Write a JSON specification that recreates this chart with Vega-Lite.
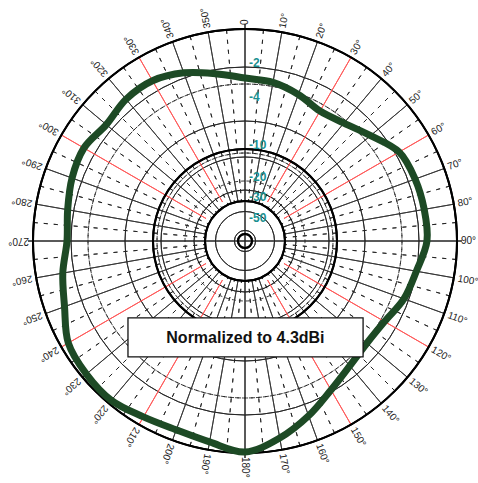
{
  "$schema": "https://vega.github.io/schema/vega-lite/v6.json",
  "width": 424,
  "height": 424,
  "autosize": {"type": "none"},
  "padding": {"left": 33, "top": 29, "right": 21, "bottom": 30},
  "background": "white",
  "config": {"view": {"stroke": null}},
  "datasets": {
    "rings": [
      {"db": 0, "k": "thick"}, {"db": -10, "k": "thick"}, {"db": -20, "k": "thick"}, {"db": -30, "k": "thick"}, {"db": -50, "k": "thick"}, {"db": -60, "k": "thick"},
      {"db": -2, "k": "solid"}, {"db": -4, "k": "solid"}, {"db": -6, "k": "solid"}, {"db": -12.5, "k": "solid"}, {"db": -15, "k": "solid"}, {"db": -17.5, "k": "solid"}, {"db": -22.5, "k": "solid"}, {"db": -25, "k": "solid"}, {"db": -27.5, "k": "solid"},
      {"db": -3, "k": "dash"}, {"db": -8, "k": "dash"}, {"db": -9, "k": "dash"}
    ],
    "spokes": [
      {"a": 0, "k": "axis"}, {"a": 90, "k": "axis"}, {"a": 180, "k": "axis"}, {"a": 270, "k": "axis"},
      {"a": 30, "k": "red"}, {"a": 60, "k": "red"}, {"a": 120, "k": "red"}, {"a": 150, "k": "red"}, {"a": 210, "k": "red"}, {"a": 240, "k": "red"}, {"a": 300, "k": "red"}, {"a": 330, "k": "red"},
      {"a": 10, "k": "ten"}, {"a": 20, "k": "ten"}, {"a": 40, "k": "ten"}, {"a": 50, "k": "ten"}, {"a": 70, "k": "ten"}, {"a": 80, "k": "ten"}, {"a": 100, "k": "ten"}, {"a": 110, "k": "ten"}, {"a": 130, "k": "ten"}, {"a": 140, "k": "ten"}, {"a": 160, "k": "ten"}, {"a": 170, "k": "ten"}, {"a": 190, "k": "ten"}, {"a": 200, "k": "ten"}, {"a": 220, "k": "ten"}, {"a": 230, "k": "ten"}, {"a": 250, "k": "ten"}, {"a": 260, "k": "ten"}, {"a": 280, "k": "ten"}, {"a": 290, "k": "ten"}, {"a": 310, "k": "ten"}, {"a": 320, "k": "ten"}, {"a": 340, "k": "ten"}, {"a": 350, "k": "ten"},
      {"a": 5, "k": "five"}, {"a": 15, "k": "five"}, {"a": 25, "k": "five"}, {"a": 35, "k": "five"}, {"a": 45, "k": "five"}, {"a": 55, "k": "five"}, {"a": 65, "k": "five"}, {"a": 75, "k": "five"}, {"a": 85, "k": "five"}, {"a": 95, "k": "five"}, {"a": 105, "k": "five"}, {"a": 115, "k": "five"}, {"a": 125, "k": "five"}, {"a": 135, "k": "five"}, {"a": 145, "k": "five"}, {"a": 155, "k": "five"}, {"a": 165, "k": "five"}, {"a": 175, "k": "five"}, {"a": 185, "k": "five"}, {"a": 195, "k": "five"}, {"a": 205, "k": "five"}, {"a": 215, "k": "five"}, {"a": 225, "k": "five"}, {"a": 235, "k": "five"}, {"a": 245, "k": "five"}, {"a": 255, "k": "five"}, {"a": 265, "k": "five"}, {"a": 275, "k": "five"}, {"a": 285, "k": "five"}, {"a": 295, "k": "five"}, {"a": 305, "k": "five"}, {"a": 315, "k": "five"}, {"a": 325, "k": "five"}, {"a": 335, "k": "five"}, {"a": 345, "k": "five"}, {"a": 355, "k": "five"}
    ],
    "anglabels": [
      {"a": 0, "lab": "0"}, {"a": 10, "lab": "10°"}, {"a": 20, "lab": "20°"}, {"a": 30, "lab": "30°"}, {"a": 40, "lab": "40°"}, {"a": 50, "lab": "50°"}, {"a": 60, "lab": "60°"}, {"a": 70, "lab": "70°"}, {"a": 80, "lab": "80°"}, {"a": 90, "lab": "90°"}, {"a": 100, "lab": "100°"}, {"a": 110, "lab": "110°"}, {"a": 120, "lab": "120°"}, {"a": 130, "lab": "130°"}, {"a": 140, "lab": "140°"}, {"a": 150, "lab": "150°"}, {"a": 160, "lab": "160°"}, {"a": 170, "lab": "170°"}, {"a": 180, "lab": "180°"}, {"a": 190, "lab": "190°"}, {"a": 200, "lab": "200°"}, {"a": 210, "lab": "210°"}, {"a": 220, "lab": "220°"}, {"a": 230, "lab": "230°"}, {"a": 240, "lab": "240°"}, {"a": 250, "lab": "250°"}, {"a": 260, "lab": "260°"}, {"a": 270, "lab": "270°"}, {"a": 280, "lab": "280°"}, {"a": 290, "lab": "290°"}, {"a": 300, "lab": "300°"}, {"a": 310, "lab": "310°"}, {"a": 320, "lab": "320°"}, {"a": 330, "lab": "330°"}, {"a": 340, "lab": "340°"}, {"a": 350, "lab": "350°"}
    ],
    "dblabels": [
      {"db": -2, "lab": "-2"}, {"db": -4, "lab": "-4"}, {"db": -10, "lab": "-10"}, {"db": -20, "lab": "-20"}, {"db": -30, "lab": "-30"}, {"db": -50, "lab": "-50"}
    ],
    "pattern": [
      {"a": 0, "db": -2.65}, {"a": 10, "db": -2.76}, {"a": 20, "db": -3.06}, {"a": 30, "db": -3.41}, {"a": 40, "db": -3.18}, {"a": 50, "db": -2.59},
      {"a": 60, "db": -1.79}, {"a": 70, "db": -1.63}, {"a": 80, "db": -1.58}, {"a": 90, "db": -1.58}, {"a": 100, "db": -2.0}, {"a": 110, "db": -2.29},
      {"a": 120, "db": -2.76}, {"a": 130, "db": -2.88}, {"a": 140, "db": -2.65}, {"a": 150, "db": -2.12}, {"a": 160, "db": -1.37}, {"a": 170, "db": -0.63},
      {"a": 180, "db": -0.05}, {"a": 190, "db": -0.42}, {"a": 200, "db": -0.58}, {"a": 210, "db": -0.47}, {"a": 220, "db": -0.21}, {"a": 230, "db": -0.26},
      {"a": 240, "db": -0.42}, {"a": 250, "db": -1.05}, {"a": 260, "db": -1.42}, {"a": 270, "db": -1.79}, {"a": 280, "db": -1.68}, {"a": 290, "db": -1.47},
      {"a": 300, "db": -1.37}, {"a": 310, "db": -1.63}, {"a": 320, "db": -1.42}, {"a": 330, "db": -1.42}, {"a": 340, "db": -1.74}, {"a": 350, "db": -2.24}
    ]
  },
  "layer": [
    {
      "data": {"name": "rings"},
      "transform": [{"filter": "datum.k === 'solid'"}],
      "mark": {"type": "arc", "theta": 0, "theta2": 6.2832, "filled": false, "stroke": "#222", "strokeWidth": 0.9},
      "encoding": {
        "radius": {"field": "db", "type": "quantitative", "scale": {"type": "linear", "zero": false, "nice": false, "domain": [-70, -60, -50, -35, -30, -27.5, -25, -22.5, -20, -17.5, -15, -12.5, -10, -9, -8, -6, -4, -3, -2, 0, 1], "range": [0, 7, 19, 34, 40, 45, 50, 55, 60, 65, 72, 82, 92, 100, 107, 120, 140, 157, 174, 212, 222]}}
      }
    },
    {
      "data": {"name": "rings"},
      "transform": [{"filter": "datum.k === 'dash'"}],
      "mark": {"type": "arc", "theta": 0, "theta2": 6.2832, "filled": false, "stroke": "#222", "strokeWidth": 0.9, "strokeDash": [4, 3]},
      "encoding": {
        "radius": {"field": "db", "type": "quantitative"}
      }
    },
    {
      "data": {"name": "spokes"},
      "transform": [{"filter": "datum.k === 'five'"}],
      "mark": {"type": "arc", "filled": false, "stroke": "#222", "strokeWidth": 0.9, "strokeDash": [4, 6]},
      "encoding": {
        "theta": {"field": "a", "type": "quantitative", "stack": null, "scale": {"domain": [0, 360], "range": [0, 6.283185307179586]}},
        "theta2": {"field": "a"},
        "radius": {"datum": 0, "type": "quantitative"},
        "radius2": {"datum": -30}
      }
    },
    {
      "data": {"name": "spokes"},
      "transform": [{"filter": "datum.k === 'ten'"}],
      "mark": {"type": "arc", "filled": false, "stroke": "#333", "strokeWidth": 0.9},
      "encoding": {
        "theta": {"field": "a", "type": "quantitative", "stack": null},
        "theta2": {"field": "a"},
        "radius": {"datum": 0, "type": "quantitative"},
        "radius2": {"datum": -30}
      }
    },
    {
      "data": {"name": "spokes"},
      "transform": [{"filter": "datum.k === 'red'"}],
      "mark": {"type": "arc", "filled": false, "stroke": "#ff5a5a", "strokeWidth": 1},
      "encoding": {
        "theta": {"field": "a", "type": "quantitative", "stack": null},
        "theta2": {"field": "a"},
        "radius": {"datum": 0, "type": "quantitative"},
        "radius2": {"datum": -27.5}
      }
    },
    {
      "data": {"name": "spokes"},
      "transform": [{"filter": "datum.k === 'axis'"}],
      "mark": {"type": "arc", "filled": false, "stroke": "#222", "strokeWidth": 1},
      "encoding": {
        "theta": {"field": "a", "type": "quantitative", "stack": null},
        "theta2": {"field": "a"},
        "radius": {"datum": 0.5, "type": "quantitative"},
        "radius2": {"datum": -70}
      }
    },
    {
      "data": {"name": "rings"},
      "transform": [{"filter": "datum.k === 'thick'"}],
      "mark": {"type": "arc", "theta": 0, "theta2": 6.2832, "filled": false, "stroke": "#000", "strokeWidth": 2},
      "encoding": {
        "radius": {"field": "db", "type": "quantitative"}
      }
    },
    {
      "data": {"name": "dblabels"},
      "mark": {"type": "text", "align": "left", "baseline": "middle", "dx": 4, "dy": -4, "font": "Liberation Sans", "fontSize": 12, "fontWeight": "bold", "color": "#1a9090"},
      "encoding": {
        "theta": {"datum": 0, "type": "quantitative"},
        "radius": {"field": "db", "type": "quantitative"},
        "text": {"field": "lab"}
      }
    },
    {
      "data": {"name": "anglabels"},
      "mark": {"type": "text", "align": "left", "baseline": "middle", "font": "Liberation Sans", "fontSize": 10, "color": "#222"},
      "encoding": {
        "theta": {"field": "a", "type": "quantitative", "stack": null},
        "radius": {"datum": 0.4, "type": "quantitative"},
        "angle": {"field": "a", "type": "quantitative", "scale": {"domain": [0, 360], "range": [-90, 270]}},
        "text": {"field": "lab"}
      }
    },
    {
      "data": {"name": "pattern"},
      "transform": [
        {"calculate": "(datum.db >= -2 ? 212 + 19 * datum.db : datum.db >= -3 ? 174 + 17 * (datum.db + 2) : 157 + 17 * (datum.db + 3)) / 212", "as": "r"},
        {"calculate": "datum.r * sin(datum.a * PI / 180)", "as": "px"},
        {"calculate": "datum.r * cos(datum.a * PI / 180)", "as": "py"}
      ],
      "mark": {"type": "line", "interpolate": "cardinal-closed", "strokeWidth": 7, "color": "#1d4a25", "strokeJoin": "round", "strokeCap": "round"},
      "encoding": {
        "x": {"field": "px", "type": "quantitative", "scale": {"domain": [-1, 1], "nice": false, "zero": false}, "axis": null},
        "y": {"field": "py", "type": "quantitative", "scale": {"domain": [-1, 1], "nice": false, "zero": false}, "axis": null},
        "order": {"field": "a", "type": "quantitative"}
      }
    },
    {
      "data": {"values": [{"label": "Normalized to 4.3dBi"}]},
      "mark": {"type": "rect", "fill": "white", "stroke": "#111", "strokeWidth": 1.3},
      "encoding": {
        "x": {"datum": -0.552, "type": "quantitative"},
        "x2": {"datum": 0.557},
        "y": {"datum": -0.363, "type": "quantitative"},
        "y2": {"datum": -0.547}
      }
    },
    {
      "data": {"values": [{"label": "Normalized to 4.3dBi"}]},
      "mark": {"type": "text", "font": "Liberation Sans", "fontSize": 16, "fontWeight": "bold", "color": "#111", "align": "center", "baseline": "middle"},
      "encoding": {
        "x": {"datum": 0.002, "type": "quantitative"},
        "y": {"datum": -0.458, "type": "quantitative"},
        "text": {"field": "label"}
      }
    }
  ]
}
